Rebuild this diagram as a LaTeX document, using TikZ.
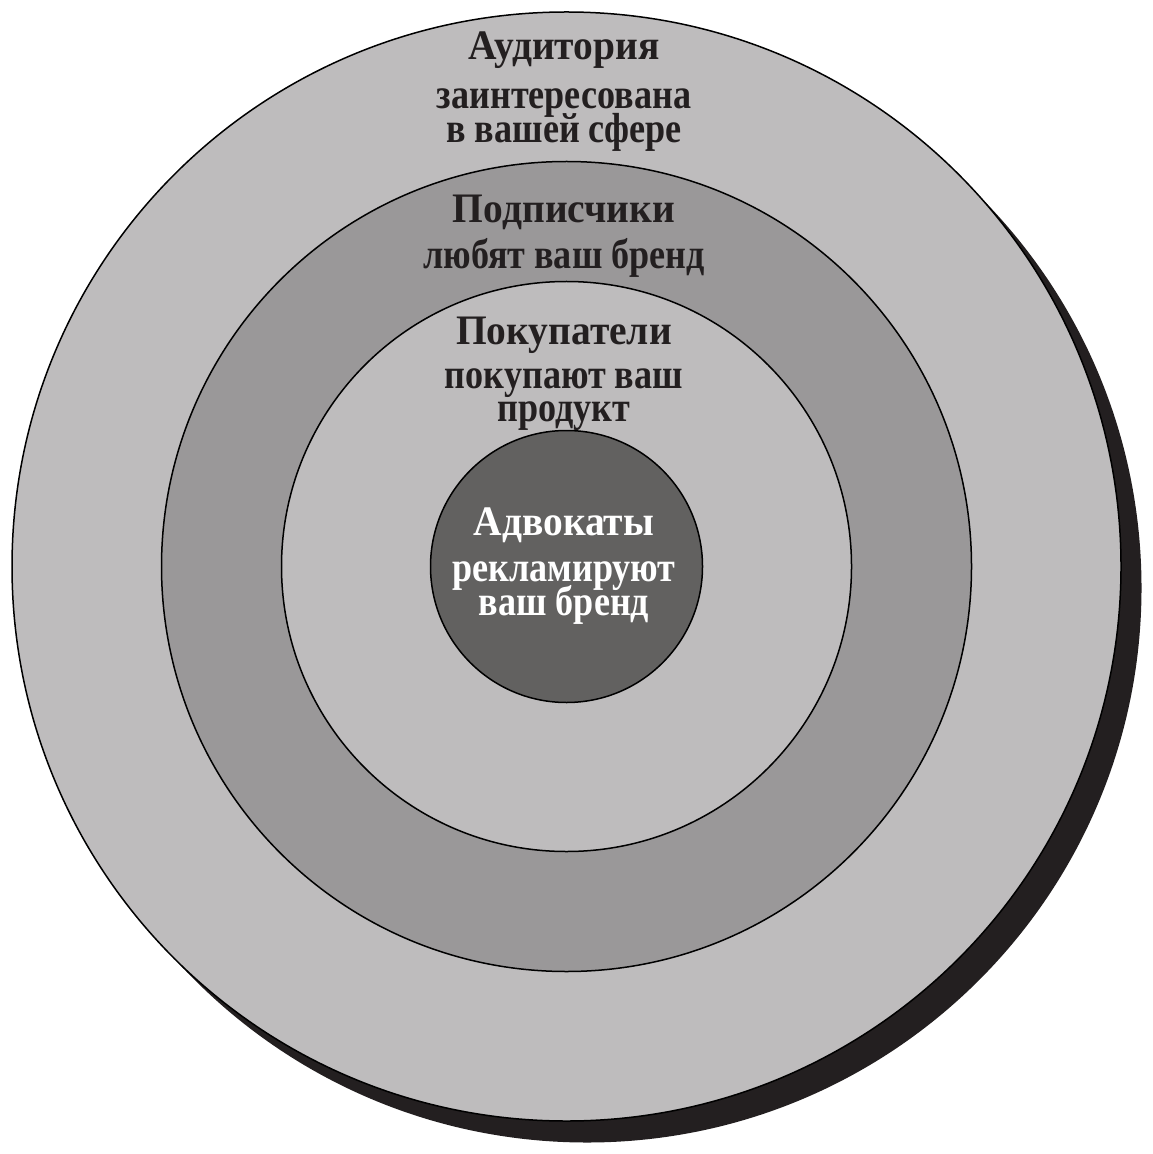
\documentclass[tikz,border=0pt]{standalone}
\usepackage{fontspec}
\setmainfont{Liberation Serif}
\newfontfamily\titlebf[FakeStretch=0.94]{Liberation Serif Bold}
\newfontfamily\narrowbf[FakeStretch=0.86]{Liberation Serif Bold}
\usepackage{tikz}
\definecolor{lightring}{RGB}{190,188,189}
\definecolor{midring}{RGB}{154,152,153}
\definecolor{darkring}{RGB}{98,97,96}
\definecolor{shadowblk}{RGB}{35,31,32}
\definecolor{ink}{RGB}{35,31,32}
\newcommand\tightlines{\lineskiplimit=-50pt\relax}

\begin{document}
\begin{tikzpicture}[x=0.5pt,y=-0.5pt,
  ttl/.style={anchor=base,inner sep=0pt,text=ink,font=\fontsize{21}{20}\selectfont\titlebf},
  sub/.style={anchor=base,inner sep=0pt,align=center,text=ink,
    font=\fontsize{21}{17}\selectfont\narrowbf\tightlines}]
\useasboundingbox (0,0) rectangle (1152,1154);
% shadow and rings
\fill[shadowblk] (587,588) circle (554.5);
\foreach \r/\c in {554.5/lightring,405/midring,285/lightring,136/darkring}
\draw[line width=0.75pt,fill=\c] (566.5,566.5) circle (\r);
% labels (a two-line node sits on its last baseline)
\node[ttl] (aud) at (564,60) {Аудитория};
\node[sub] (audsub) at (564,143) {заинтересована\\в вашей сфере};
\node[ttl] (subs) at (564,223) {Подписчики};
\node[sub] (subssub) at (564,269) {любят ваш бренд};
\node[ttl] (buy) at (564,345) {Покупатели};
\node[sub] (buysub) at (564,422) {покупают ваш\\продукт};
\node[ttl,text=white] (adv) at (564,535) {Адвокаты};
\node[sub,text=white] (advsub) at (564,615) {рекламируют\\ваш бренд};
\end{tikzpicture}
\end{document}
